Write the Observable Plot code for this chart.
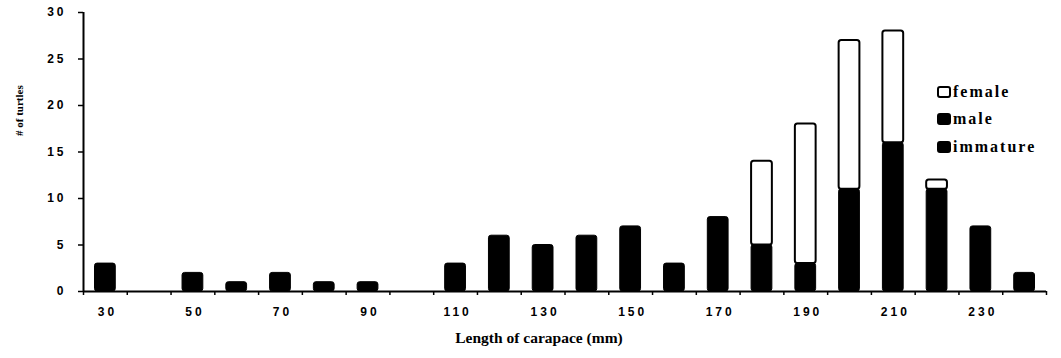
<!DOCTYPE html>
<html><head><meta charset="utf-8">
<script src="https://cdn.jsdelivr.net/npm/d3@7"></script>
<script src="https://cdn.jsdelivr.net/npm/@observablehq/plot@0.6"></script>
<style>
body{margin:0;background:#fff}
#wrap{position:relative;width:1061px;height:358px;overflow:hidden}
g[aria-label="y-axis tick label"] text, g[aria-label="x-axis tick label"] text{letter-spacing:3px}
.legend{position:absolute;left:937px;top:82px;font-family:"Liberation Serif",serif;font-weight:bold;font-size:16px;letter-spacing:2px;color:#000}
.row{position:absolute;left:0;white-space:nowrap;height:20px;line-height:20px}
.sw{display:inline-block;width:10px;height:8px;border:2px solid #000;border-radius:3px;vertical-align:middle;margin-right:2px;margin-top:-3px}
</style>
</head><body>
<div id="wrap"></div>
<script>
const lengths  = [30,40,50,60,70,80,90,100,110,120,130,140,150,160,170,180,190,200,210,220,230,240];
const immature = [3, 0, 2, 1, 2, 1, 1, 0, 3, 6, 5, 6, 7, 3, 8, 0, 0, 0, 0, 0, 0, 0];
const male     = [0, 0, 0, 0, 0, 0, 0, 0, 0, 0, 0, 0, 0, 0, 0, 5, 3,11,16,11, 7, 2];
const female   = [0, 0, 0, 0, 0, 0, 0, 0, 0, 0, 0, 0, 0, 0, 0, 9,15,16,12, 1, 0, 0];
const series = ["immature","male","female"];
const colors = ["#000","#000","#fff"];
const yTicks = [0,5,10,15,20,25,30];
const xLabelTicks = [30,50,70,90,110,130,150,170,190,210,230];
const boundaryTicks = [25,35,45,55,65,75,85,95,105,115,125,135,145,155,165,175,185,195,205,215,225,235,245];
const yLabel = "# of turtles";
const xLabel = "Length of carapace (mm)";

const values = {immature, male, female};
const rows = [];
lengths.forEach((len, i) => {
  let base = 0;
  for (const s of series) {
    const v = values[s][i];
    if (v > 0) rows.push({len, sex: s, y1: base, y2: base + v});
    base += v;
  }
});

const chart = Plot.plot({
  width: 1061,
  height: 358,
  marginTop: 12,
  marginBottom: 67,
  marginLeft: 83,
  marginRight: 15,
  style: {fontFamily: "'Liberation Sans', Arial, sans-serif", background: "#fff", color: "#000"},
  x: {type: "linear", domain: [25, 245]},
  y: {domain: [0, 30]},
  color: {domain: series, range: colors},
  marks: [
    Plot.rect(rows, {
      x1: d => d.len - 5, x2: d => d.len + 5, y1: "y1", y2: "y2",
      insetLeft: 11.5, insetRight: 11.5,
      fill: "sex", stroke: "#000", strokeWidth: d => d.sex === "female" ? 2 : 1, rx: 2.5
    }),
    Plot.ruleY([0], {x1: 25, x2: 245, stroke: "#000", strokeWidth: 2}),
    Plot.ruleX([25], {y1: 0, y2: 30, stroke: "#000", strokeWidth: 2}),
    Plot.axisY({ticks: yTicks, tickSize: 5, tickPadding: 12, fontSize: 12, fontWeight: "bold", label: null, strokeWidth: 1.5}),
    Plot.axisX({ticks: boundaryTicks, tickSize: 4, tickFormat: () => "", label: null, strokeWidth: 1.5}),
    Plot.axisX({ticks: xLabelTicks, tickSize: 0, tickPadding: 16, fontSize: 12, fontWeight: "bold", label: null, dx: 2}),
    Plot.text([yLabel], {text: d => d, frameAnchor: "left", dx: -64, dy: -16, rotate: -90,
      fontFamily: "'Liberation Serif', serif", fontWeight: "bold", fontSize: 11}),
    Plot.text([xLabel], {text: d => d, frameAnchor: "bottom", dx: -26, dy: 51,
      fontFamily: "'Liberation Serif', serif", fontWeight: "bold", fontSize: 15.5})
  ]
});
const wrap = document.getElementById("wrap");
wrap.appendChild(chart);

const legendItems = ["female","male","immature"];
const legendTops = [0, 27, 55];
const lg = document.createElement("div");
lg.className = "legend";
legendItems.forEach((name, i) => {
  const r = document.createElement("div");
  r.className = "row";
  r.style.top = legendTops[i] + "px";
  const sw = document.createElement("span");
  sw.className = "sw";
  sw.style.background = colors[series.indexOf(name)];
  r.appendChild(sw);
  r.appendChild(document.createTextNode(name));
  lg.appendChild(r);
});
wrap.appendChild(lg);
</script>
</body></html>
